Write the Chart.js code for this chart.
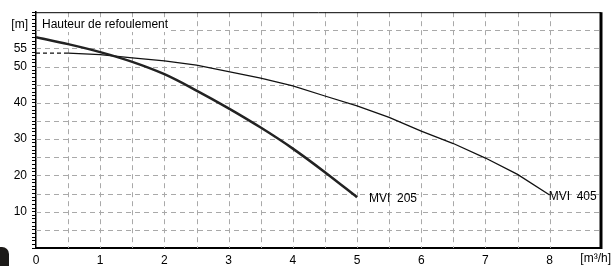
<!DOCTYPE html>
<html>
<head>
<meta charset="utf-8">
<script src="https://cdn.jsdelivr.net/npm/chart.js@4.4.1/dist/chart.umd.min.js"></script>
<style>
  html, body { margin: 0; padding: 0; background: #fff; }
  #wrap { position: relative; width: 614px; height: 266px; }
  #blob { position: absolute; left: 0; top: 247px; width: 9px; height: 19px; background: #1c1a18; border-top-right-radius: 7px; }
</style>
</head>
<body>
<div id="wrap">
  <canvas id="chart" width="614" height="266"></canvas>
  <div id="blob"></div>
</div>
<script>
// Pump curves: flow [m³/h] vs head [m]
const flow205 = [0, 0.5, 1, 1.5, 2, 2.5, 3, 3.5, 4, 4.5, 5];
const head205 = [58.1, 56.2, 54.0, 51.3, 47.9, 43.4, 38.5, 33.2, 27.4, 20.9, 14.0];

const flow405 = [0.5, 1, 1.5, 2, 2.5, 3, 3.5, 4, 4.5, 5, 5.5, 6, 6.5, 7, 7.5, 8];
const head405 = [53.7, 53.3, 52.4, 51.6, 50.4, 48.6, 46.8, 44.7, 41.9, 39.2, 36.0, 32.2, 28.8, 24.8, 20.3, 14.6];

// shut-off head of MVI 405, dashed back to the axis
const flow405Dash = [0, 0.5];
const head405Dash = [53.7, 53.7];

const yLabels = [10, 20, 30, 40, 50, 55];
const seriesNames = ['MVI  205', 'MVI  405'];

const toPoints = (xs, ys) => xs.map((x, i) => ({ x, y: ys[i] }));

const FONT = '"Liberation Sans", Arial, sans-serif';
const GRID = '#a9a9a9';

// dashed grid, drawn from the scales' own ticks
const dashedGrid = {
  id: 'dashedGrid',
  beforeDatasetsDraw(chart) {
    const { ctx, chartArea: a, scales: { x, y } } = chart;
    ctx.save();
    ctx.strokeStyle = GRID;
    ctx.lineWidth = 1;
    ctx.setLineDash([5, 4]);
    x.ticks.forEach((t) => {
      if (t.value <= 0 || t.value >= x.max) return;
      const px = Math.round(x.getPixelForValue(t.value)) + 0.5;
      ctx.beginPath();
      ctx.moveTo(px, a.top);
      ctx.lineTo(px, a.bottom);
      ctx.stroke();
    });
    y.ticks.forEach((t) => {
      if (t.value % 5 !== 0 || t.value <= 0 || t.value >= y.max) return;
      const py = Math.round(y.getPixelForValue(t.value)) + 0.5;
      ctx.beginPath();
      ctx.moveTo(a.left, py);
      ctx.lineTo(a.right, py);
      ctx.stroke();
    });
    ctx.restore();
  }
};

// frame, titles and curve names
const extras = {
  id: 'extras',
  afterDraw(chart) {
    const { ctx, chartArea: a, scales: { x, y } } = chart;
    ctx.save();
    ctx.strokeStyle = '#000';
    ctx.lineWidth = 1;
    ctx.beginPath();
    ctx.moveTo(a.left, a.top + 0.5);
    ctx.lineTo(a.right, a.top + 0.5);
    ctx.stroke();
    ctx.lineWidth = 3;
    ctx.beginPath();
    ctx.moveTo(a.right, a.top);
    ctx.lineTo(a.right, a.bottom + 1);
    ctx.stroke();

    ctx.font = '12px ' + FONT;
    ctx.fillStyle = '#000';
    ctx.textBaseline = 'middle';

    const title = 'Hauteur de refoulement';
    const tw = ctx.measureText(title).width;
    ctx.fillStyle = '#fff';
    ctx.fillRect(a.left + 4, 18, tw + 4, 14);
    ctx.fillStyle = '#000';
    ctx.fillText(title, a.left + 6, 25);

    ctx.textAlign = 'right';
    ctx.fillText('[m]', a.left - 8, 25);
    ctx.fillText('[m³/h]', 611, 259);

    ctx.textAlign = 'left';
    ctx.fillText(seriesNames[0], x.getPixelForValue(flow205[flow205.length - 1]) + 12, y.getPixelForValue(head205[head205.length - 1]) + 1);
    ctx.fillText(seriesNames[1], x.getPixelForValue(flow405[flow405.length - 1]) - 1, y.getPixelForValue(head405[head405.length - 1]) + 2);
    ctx.restore();
  }
};

new Chart(document.getElementById('chart'), {
  type: 'line',
  data: {
    datasets: [
      {
        label: 'MVI 205',
        data: toPoints(flow205, head205),
        borderColor: '#222',
        borderWidth: 2.5,
        pointRadius: 0,
        cubicInterpolationMode: 'monotone'
      },
      {
        label: 'MVI 405',
        data: toPoints(flow405, head405),
        borderColor: '#111',
        borderWidth: 1.3,
        pointRadius: 0,
        tension: 0
      },
      {
        label: 'MVI 405 dash',
        data: toPoints(flow405Dash, head405Dash),
        borderColor: '#111',
        borderWidth: 1.3,
        borderDash: [4, 3],
        pointRadius: 0
      }
    ]
  },
  options: {
    responsive: false,
    animation: false,
    layout: { padding: { top: 7, right: 13, left: 0, bottom: 0 } },
    plugins: { legend: { display: false }, tooltip: { enabled: false } },
    scales: {
      x: {
        type: 'linear',
        min: 0,
        max: 8.8,
        afterFit(scale) { scale.height = 18; },
        ticks: {
          stepSize: 0.5,
          autoSkip: false,
          maxRotation: 0,
          padding: 5,
          color: '#000',
          font: { size: 12, family: FONT },
          callback: (v) => Number.isInteger(v) ? String(v) : ''
        },
        grid: { drawTicks: false, drawOnChartArea: false },
        border: { display: true, color: '#000', width: 2 }
      },
      y: {
        min: 0,
        max: 65,
        afterFit(scale) { scale.width = 36; },
        ticks: {
          stepSize: 1,
          autoSkip: false,
          padding: 5,
          color: '#000',
          font: { size: 12, family: FONT },
          callback: (v) => yLabels.includes(v) ? String(v) : ''
        },
        grid: {
          drawTicks: true,
          drawOnChartArea: false,
          tickLength: 4,
          tickColor: '#000'
        },
        border: { display: true, color: '#000', width: 1.5 }
      }
    }
  },
  plugins: [dashedGrid, extras]
});
</script>
</body>
</html>
